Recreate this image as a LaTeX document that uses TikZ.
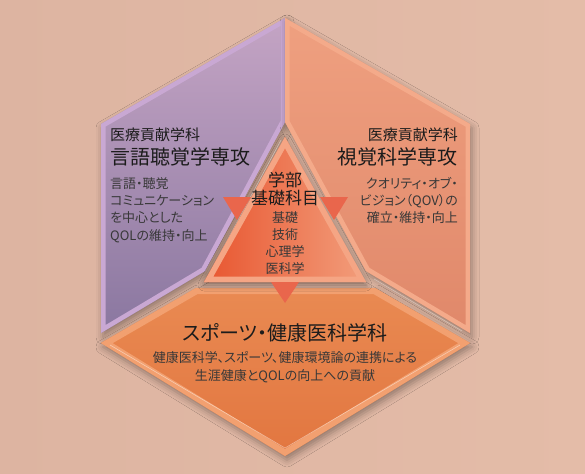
\documentclass[tikz,border=0pt]{standalone}
\usepackage{fontspec}
\setmainfont[RawFeature={+palt}]{Noto Sans CJK JP}
\usetikzlibrary{shadows.blur}
\definecolor{bgL}{HTML}{DDB4A1}
\definecolor{bgR}{HTML}{E4BCA8}
\definecolor{purT}{HTML}{C4A4C4}
\definecolor{purB}{HTML}{8A77A0}
\definecolor{purE}{HTML}{C9A8D3}
\definecolor{oraT}{HTML}{EFA080}
\definecolor{oraB}{HTML}{E0886A}
\definecolor{oraE}{HTML}{F4AA8A}
\definecolor{botT}{HTML}{E98A52}
\definecolor{botB}{HTML}{E27640}
\definecolor{botE}{HTML}{F2A070}
\definecolor{triL}{HTML}{E8552F}
\definecolor{triR}{HTML}{F29E7C}
\definecolor{triE}{HTML}{F5A584}
\definecolor{arr}{HTML}{E9664C}
\definecolor{txt}{HTML}{1C1C1C}
\definecolor{desc}{HTML}{383838}
\newcommand{\fsz}[1]{\fontsize{#1}{#1}\selectfont}
\tikzset{
  panelshadow/.style={blur shadow={shadow xshift=2pt,shadow yshift=-4pt,shadow blur radius=7pt,shadow opacity=35}},
  headtext/.style={inner sep=0pt,text=txt,font=\fsz{15}},
  titletext/.style={inner sep=0pt,text=txt,font=\fsz{20}},
  desctext/.style={inner sep=0pt,text=desc,font=\fsz{13}},
  cheadtext/.style={inner sep=0pt,text=txt,font=\fsz{17}},
  arrowtri/.style={fill=arr}
}
\begin{document}
\begin{tikzpicture}[x=1pt,y=-1pt]
\useasboundingbox (0,0) rectangle (585,473);
\shade[left color=bgL,right color=bgR] (0,0) rectangle (585,473);

% coordinates
\coordinate (T) at (285,18);
\coordinate (LT) at (101,124);
\coordinate (LB) at (101,333);
\coordinate (LI) at (205,271);
\coordinate (CI) at (285,122);
\coordinate (RT) at (470,124);
\coordinate (RB) at (470,333);
\coordinate (RI) at (366,271);
\coordinate (BL) at (101,343);
\coordinate (BTL) at (196,288);
\coordinate (BTR) at (375,288);
\coordinate (BR) at (470,343);
\coordinate (BB) at (285,456);
\coordinate (TA) at (285,137);
\coordinate (TL) at (204,282);
\coordinate (TR) at (366,282);

% left panel
\path[panelshadow,top color=purT,bottom color=purB] (T) -- (LT) -- (LB) -- (LI) -- (CI) -- cycle;
\begin{scope}
\clip (T) -- (LT) -- (LB) -- (LI) -- (CI) -- cycle;
\draw[purE,line width=9pt,line join=miter] (T) -- (LT) -- (LB) -- (LI) -- (CI) -- cycle;
\end{scope}
\draw[white,opacity=0.5,line width=0.6pt] (214,265) -- (281,140);

% right panel
\path[panelshadow,top color=oraT,bottom color=oraB] (T) -- (RT) -- (RB) -- (RI) -- (CI) -- cycle;
\begin{scope}
\clip (T) -- (RT) -- (RB) -- (RI) -- (CI) -- cycle;
\draw[oraE,line width=9pt,line join=miter] (T) -- (RT) -- (RB) -- (RI) -- (CI) -- cycle;
\end{scope}
\draw[white,opacity=0.4,line width=0.6pt] (374,279) -- (462,331);

% bottom panel
\path[panelshadow,top color=botT,bottom color=botB] (BL) -- (BTL) -- (BTR) -- (BR) -- (BB) -- cycle;
\begin{scope}
\clip (BL) -- (BTL) -- (BTR) -- (BR) -- (BB) -- cycle;
\draw[botE,line width=12pt,line join=miter] (BL) -- (BTL) -- (BTR) -- (BR) -- (BB) -- cycle;
\end{scope}
\draw[white,opacity=0.45,line width=0.6pt] (110,345) -- (285,448) -- (460,345);

% central triangle
\path[blur shadow={shadow xshift=0pt,shadow yshift=-3pt,shadow blur radius=6pt,shadow opacity=45},left color=triL,right color=triR] (TA) -- (TL) -- (TR) -- cycle;
\begin{scope}
\clip (TA) -- (TL) -- (TR) -- cycle;
\draw[triE,line width=11pt,line join=miter] (TA) -- (TL) -- (TR) -- cycle;
\end{scope}

% small arrow triangles
\fill[arrowtri] (223,197) -- (251,197) -- (237,220) -- cycle;
\fill[arrowtri] (320,197) -- (348,197) -- (334,220) -- cycle;
\fill[arrowtri] (271,282) -- (299,282) -- (285,303) -- cycle;

% left texts
\node[headtext,anchor=base west] (lh) at (110,140.7) {医療貢献学科};
\node[titletext,anchor=base west] (lt) at (110,164.6) {言語聴覚学専攻};
\node[desctext,anchor=base west] (ld1) at (110,188) {言語・聴覚};
\node[desctext,anchor=base west] (ld2) at (110,205.3) {コミュニケーション};
\node[desctext,anchor=base west] (ld3) at (110,222.6) {を中心とした};
\node[desctext,anchor=base west] (ld4) at (110,240) {QOLの維持・向上};

% right texts
\node[headtext,anchor=base east] (rh) at (458,140.7) {医療貢献学科};
\node[titletext,anchor=base east] (rt) at (458,164.6) {視覚科学専攻};
\node[desctext,anchor=base east] (rd1) at (458,188) {クオリティ・オブ・};
\node[desctext,anchor=base east] (rd2) at (458,205.3) {ビジョン（QOV）の};
\node[desctext,anchor=base east] (rd3) at (458,222.6) {確立・維持・向上};

% center texts
\node[cheadtext,anchor=base] (c1) at (285,186.5) {学部};
\node[cheadtext,anchor=base] (c2) at (285,204.5) {基礎科目};
\node[desctext,anchor=base] (c3) at (285,222.9) {基礎};
\node[desctext,anchor=base] (c4) at (285,239.6) {技術};
\node[desctext,anchor=base] (c5) at (285,256.3) {心理学};
\node[desctext,anchor=base] (c6) at (285,273) {医科学};

% bottom texts
\node[titletext,anchor=base] (bt) at (285,340.6) {スポーツ・健康医科学科};
\node[desctext,anchor=base] (bd1) at (285,362) {健康医科学、スポーツ、健康環境論の連携による};
\node[desctext,anchor=base] (bd2) at (285,380) {生涯健康とQOLの向上への貢献};
\end{tikzpicture}
\end{document}
